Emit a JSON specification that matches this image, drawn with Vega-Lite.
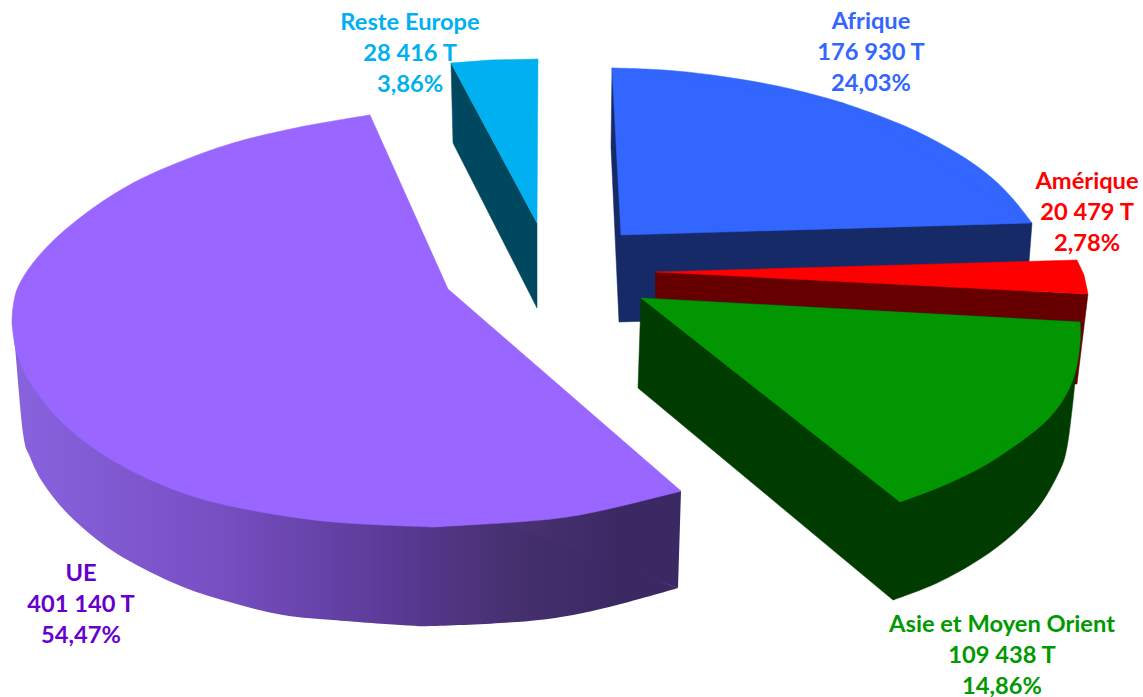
{"$schema":"https://vega.github.io/schema/vega-lite/v6.json","width":1143,"height":697,"autosize":{"type":"none"},"padding":0,"background":"white","view":{"stroke":null},
"datasets":{"labels":[
{"region":"Reste Europe","tonnes":"28 416 T","share":"3,86%","text":"Reste Europe|28 416 T|3,86%","x":410,"y":22.5},
{"region":"Afrique","tonnes":"176 930 T","share":"24,03%","text":"Afrique|176 930 T|24,03%","x":871,"y":21.5},
{"region":"Amérique","tonnes":"20 479 T","share":"2,78%","text":"Amérique|20 479 T|2,78%","x":1087,"y":181.5},
{"region":"Asie et Moyen Orient","tonnes":"109 438 T","share":"14,86%","text":"Asie et Moyen Orient|109 438 T|14,86%","x":1002,"y":624.5},
{"region":"UE","tonnes":"401 140 T","share":"54,47%","text":"UE|401 140 T|54,47%","x":81,"y":574}],
"wall":[
{"i":0,"x":12,"y":323},{"i":1,"x":15,"y":347},{"i":2,"x":23,"y":433},{"i":3,"x":30,"y":457},{"i":4,"x":43,"y":483},{"i":5,"x":67,"y":513},{"i":6,"x":100,"y":542},{"i":7,"x":133,"y":563},{"i":8,"x":183,"y":587},{"i":9,"x":233,"y":603},{"i":10,"x":283,"y":615},{"i":11,"x":333,"y":620},{"i":12,"x":400,"y":625},{"i":13,"x":433,"y":626},{"i":14,"x":517,"y":622},{"i":15,"x":567,"y":616},{"i":16,"x":617,"y":605},{"i":17,"x":678,"y":588}],
"wallCorner":[{"i":0,"x":681,"y":491},{"i":1,"x":678,"y":588},{"i":2,"x":600,"y":559},{"i":3,"x":510,"y":526},{"i":4,"x":480,"y":518}],
"outlines":[
{"pass":2,"part":"UE fan","face":"UE top","i":0,"x":370,"y":115},{"pass":2,"part":"UE fan","face":"UE top","i":1,"x":133,"y":183},{"pass":2,"part":"UE fan","face":"UE top","i":2,"x":12,"y":323},{"pass":2,"part":"UE fan","face":"UE top","i":3,"x":117,"y":463},{"pass":2,"part":"UE fan","face":"UE top","i":4,"x":433,"y":527},{"pass":2,"part":"UE fan","face":"UE top","i":5,"x":600,"y":510},{"pass":2,"part":"UE fan","face":"UE top","i":6,"x":681,"y":491},{"pass":2,"part":"UE fan","face":"UE top","i":7,"x":448,"y":289},{"pass":2,"part":"UE fan","face":"UE top","i":8,"x":370,"y":115},
{"pass":2,"part":"Reste wall","face":"Reste Europe wall","i":0,"x":451,"y":63},{"pass":2,"part":"Reste wall","face":"Reste Europe wall","i":1,"x":453,"y":143},{"pass":2,"part":"Reste wall","face":"Reste Europe wall","i":2,"x":537,"y":308},{"pass":2,"part":"Reste wall","face":"Reste Europe wall","i":3,"x":537,"y":223},{"pass":2,"part":"Reste wall","face":"Reste Europe wall","i":4,"x":451,"y":63},
{"pass":2,"part":"Reste top","face":"Reste Europe top","i":0,"x":451,"y":63},{"pass":2,"part":"Reste top","face":"Reste Europe top","i":1,"x":490,"y":60},{"pass":2,"part":"Reste top","face":"Reste Europe top","i":2,"x":538,"y":59},{"pass":2,"part":"Reste top","face":"Reste Europe top","i":3,"x":537,"y":223},{"pass":2,"part":"Reste top","face":"Reste Europe top","i":4,"x":451,"y":63},
{"pass":2,"part":"Afrique wall","face":"Afrique wall","i":0,"x":612,"y":68},{"pass":2,"part":"Afrique wall","face":"Afrique wall","i":1,"x":611,"y":147},{"pass":2,"part":"Afrique wall","face":"Afrique wall","i":2,"x":619,"y":322},{"pass":2,"part":"Afrique wall","face":"Afrique wall","i":3,"x":1025,"y":310},{"pass":2,"part":"Afrique wall","face":"Afrique wall","i":4,"x":1029,"y":262},{"pass":2,"part":"Afrique wall","face":"Afrique wall","i":5,"x":1032,"y":223},{"pass":2,"part":"Afrique wall","face":"Afrique wall","i":6,"x":612,"y":68},
{"pass":3,"part":"UE arc a","face":"UE top","i":0,"x":370,"y":115},{"pass":3,"part":"UE arc a","face":"UE top","i":1,"x":300,"y":127},{"pass":3,"part":"UE arc a","face":"UE top","i":2,"x":233,"y":143},{"pass":3,"part":"UE arc a","face":"UE top","i":3,"x":177,"y":163},{"pass":3,"part":"UE arc a","face":"UE top","i":4,"x":133,"y":183},{"pass":3,"part":"UE arc a","face":"UE top","i":5,"x":93,"y":208},{"pass":3,"part":"UE arc a","face":"UE top","i":6,"x":57,"y":237},{"pass":3,"part":"UE arc a","face":"UE top","i":7,"x":33,"y":263},{"pass":3,"part":"UE arc a","face":"UE top","i":8,"x":18,"y":287},{"pass":3,"part":"UE arc a","face":"UE top","i":9,"x":13,"y":307},{"pass":3,"part":"UE arc a","face":"UE top","i":10,"x":12,"y":323},
{"pass":3,"part":"UE arc b","face":"UE top","i":0,"x":12,"y":323},{"pass":3,"part":"UE arc b","face":"UE top","i":1,"x":17,"y":353},{"pass":3,"part":"UE arc b","face":"UE top","i":2,"x":33,"y":387},{"pass":3,"part":"UE arc b","face":"UE top","i":3,"x":67,"y":427},{"pass":3,"part":"UE arc b","face":"UE top","i":4,"x":117,"y":463},{"pass":3,"part":"UE arc b","face":"UE top","i":5,"x":183,"y":493},{"pass":3,"part":"UE arc b","face":"UE top","i":6,"x":250,"y":510},{"pass":3,"part":"UE arc b","face":"UE top","i":7,"x":333,"y":522},{"pass":3,"part":"UE arc b","face":"UE top","i":8,"x":433,"y":527},
{"pass":3,"part":"UE arc c","face":"UE top","i":0,"x":433,"y":527},{"pass":3,"part":"UE arc c","face":"UE top","i":1,"x":517,"y":522},{"pass":3,"part":"UE arc c","face":"UE top","i":2,"x":567,"y":517},{"pass":3,"part":"UE arc c","face":"UE top","i":3,"x":617,"y":507},{"pass":3,"part":"UE arc c","face":"UE top","i":4,"x":681,"y":491},
{"pass":3,"part":"Afrique arc","face":"Afrique top","i":0,"x":612,"y":68},{"pass":3,"part":"Afrique arc","face":"Afrique top","i":1,"x":645,"y":69},{"pass":3,"part":"Afrique arc","face":"Afrique top","i":2,"x":687,"y":72},{"pass":3,"part":"Afrique arc","face":"Afrique top","i":3,"x":739,"y":79},{"pass":3,"part":"Afrique arc","face":"Afrique top","i":4,"x":791,"y":89},{"pass":3,"part":"Afrique arc","face":"Afrique top","i":5,"x":843,"y":103},{"pass":3,"part":"Afrique arc","face":"Afrique top","i":6,"x":895,"y":122},{"pass":3,"part":"Afrique arc","face":"Afrique top","i":7,"x":930,"y":138},{"pass":3,"part":"Afrique arc","face":"Afrique top","i":8,"x":965,"y":158},{"pass":3,"part":"Afrique arc","face":"Afrique top","i":9,"x":992,"y":178},{"pass":3,"part":"Afrique arc","face":"Afrique top","i":10,"x":1013,"y":199},{"pass":3,"part":"Afrique arc","face":"Afrique top","i":11,"x":1032,"y":223},
{"pass":4,"part":"Afrique wedge","face":"Afrique top","i":0,"x":612,"y":68},{"pass":4,"part":"Afrique wedge","face":"Afrique top","i":1,"x":843,"y":103},{"pass":4,"part":"Afrique wedge","face":"Afrique top","i":2,"x":1032,"y":223},{"pass":4,"part":"Afrique wedge","face":"Afrique top","i":3,"x":621,"y":235},{"pass":4,"part":"Afrique wedge","face":"Afrique top","i":4,"x":612,"y":68},
{"pass":4,"part":"Amérique wall","face":"Amérique wall","i":0,"x":655.5,"y":272},{"pass":4,"part":"Amérique wall","face":"Amérique wall","i":1,"x":655.5,"y":360},{"pass":4,"part":"Amérique wall","face":"Amérique wall","i":2,"x":1070,"y":384},{"pass":4,"part":"Amérique wall","face":"Amérique wall","i":3,"x":1077,"y":384},{"pass":4,"part":"Amérique wall","face":"Amérique wall","i":4,"x":1088,"y":294},{"pass":4,"part":"Amérique wall","face":"Amérique wall","i":5,"x":655.5,"y":272},
{"pass":4,"part":"Amérique top","face":"Amérique top","i":0,"x":655.5,"y":272},{"pass":4,"part":"Amérique top","face":"Amérique top","i":1,"x":1077,"y":260},{"pass":4,"part":"Amérique top","face":"Amérique top","i":2,"x":1084,"y":275},{"pass":4,"part":"Amérique top","face":"Amérique top","i":3,"x":1088,"y":294},{"pass":4,"part":"Amérique top","face":"Amérique top","i":4,"x":655.5,"y":272},
{"pass":4,"part":"Asie wall","face":"Asie wall","i":0,"x":641,"y":298},{"pass":4,"part":"Asie wall","face":"Asie wall","i":1,"x":638,"y":388},{"pass":4,"part":"Asie wall","face":"Asie wall","i":2,"x":893,"y":600},{"pass":4,"part":"Asie wall","face":"Asie wall","i":3,"x":1013,"y":533},{"pass":4,"part":"Asie wall","face":"Asie wall","i":4,"x":1080,"y":322},{"pass":4,"part":"Asie wall","face":"Asie wall","i":5,"x":641,"y":298},
{"pass":5,"part":"Asie wall arc","face":"Asie wall","i":0,"x":893,"y":600},{"pass":5,"part":"Asie wall arc","face":"Asie wall","i":1,"x":937,"y":583},{"pass":5,"part":"Asie wall arc","face":"Asie wall","i":2,"x":980,"y":559},{"pass":5,"part":"Asie wall arc","face":"Asie wall","i":3,"x":1013,"y":534},{"pass":5,"part":"Asie wall arc","face":"Asie wall","i":4,"x":1040,"y":505},{"pass":5,"part":"Asie wall arc","face":"Asie wall","i":5,"x":1060,"y":470},{"pass":5,"part":"Asie wall arc","face":"Asie wall","i":6,"x":1067,"y":447},{"pass":5,"part":"Asie wall arc","face":"Asie wall","i":7,"x":1072,"y":410},{"pass":5,"part":"Asie wall arc","face":"Asie wall","i":8,"x":1076,"y":373},{"pass":5,"part":"Asie wall arc","face":"Asie wall","i":9,"x":1080,"y":343},{"pass":5,"part":"Asie wall arc","face":"Asie wall","i":10,"x":1080,"y":322},
{"pass":5,"part":"Asie arc","face":"Asie top","i":0,"x":1080,"y":322},{"pass":5,"part":"Asie arc","face":"Asie top","i":1,"x":1080,"y":343},{"pass":5,"part":"Asie arc","face":"Asie top","i":2,"x":1075,"y":373},{"pass":5,"part":"Asie arc","face":"Asie top","i":3,"x":1063,"y":400},{"pass":5,"part":"Asie arc","face":"Asie top","i":4,"x":1043,"y":424},{"pass":5,"part":"Asie arc","face":"Asie top","i":5,"x":1013,"y":447},{"pass":5,"part":"Asie arc","face":"Asie top","i":6,"x":980,"y":468},{"pass":5,"part":"Asie arc","face":"Asie top","i":7,"x":940,"y":487},{"pass":5,"part":"Asie arc","face":"Asie top","i":8,"x":900,"y":502},
{"pass":6,"part":"Asie wedge","face":"Asie top","i":0,"x":641,"y":298},{"pass":6,"part":"Asie wedge","face":"Asie top","i":1,"x":1080,"y":322},{"pass":6,"part":"Asie wedge","face":"Asie top","i":2,"x":1043,"y":424},{"pass":6,"part":"Asie wedge","face":"Asie top","i":3,"x":900,"y":502},{"pass":6,"part":"Asie wedge","face":"Asie top","i":4,"x":641,"y":298}
]},
"encoding":{"x":{"field":"x","type":"quantitative","scale":{"domain":[0,1143],"nice":false,"zero":false},"axis":null},"y":{"field":"y","type":"quantitative","scale":{"domain":[697,0],"nice":false,"zero":false},"axis":null}},
"layer":[
{"data":{"name":"wall"},"mark":{"type":"line","strokeWidth":0,"interpolate":"cardinal","fill":{"gradient":"linear","x1":0,"y1":0,"x2":1,"y2":0,"stops":[{"offset":0,"color":"#8863DE"},{"offset":0.3,"color":"#7850C4"},{"offset":0.57,"color":"#5A3A96"},{"offset":0.75,"color":"#46306F"},{"offset":0.9,"color":"#3B2964"},{"offset":1,"color":"#3B2964"}]}},"encoding":{"order":{"field":"i","type":"quantitative"}}},
{"data":{"name":"wallCorner"},"mark":{"type":"line","strokeWidth":0,"fill":{"gradient":"linear","x1":0,"y1":0,"x2":1,"y2":0,"stops":[{"offset":0,"color":"#4B3379"},{"offset":0.3,"color":"#46306F"},{"offset":0.67,"color":"#3B2964"},{"offset":1,"color":"#3B2964"}]}},"encoding":{"order":{"field":"i","type":"quantitative"}}},
{"data":{"name":"outlines"},
"encoding":{"order":{"field":"i","type":"quantitative"},"detail":{"field":"part"},
"fill":{"field":"face","type":"nominal","legend":null,"scale":{"domain":["UE top","Reste Europe wall","Reste Europe top","Afrique wall","Afrique top","Amérique wall","Amérique top","Asie wall","Asie top"],"range":["#9966FF","#00485F","#00B0F0","#152A66","#3366FF","#660000","#FF0000","#003C00","#039603"]}},
"stroke":{"field":"face","type":"nominal","legend":null,"scale":{"domain":["UE top","Reste Europe wall","Reste Europe top","Afrique wall","Afrique top","Amérique wall","Amérique top","Asie wall","Asie top"],"range":["#9966FF","#00485F","#00B0F0","#152A66","#3366FF","#660000","#FF0000","#003C00","#039603"]}}},
"layer":[
{"transform":[{"filter":{"field":"pass","equal":2}}],"mark":{"type":"line","strokeWidth":0.5}},
{"transform":[{"filter":{"field":"pass","equal":3}}],"mark":{"type":"line","strokeWidth":0.5,"interpolate":"cardinal"}},
{"transform":[{"filter":{"field":"pass","equal":4}}],"mark":{"type":"line","strokeWidth":0.5}},
{"transform":[{"filter":{"field":"pass","equal":5}}],"mark":{"type":"line","strokeWidth":0.5,"interpolate":"cardinal"}},
{"transform":[{"filter":{"field":"pass","equal":6}}],"mark":{"type":"line","strokeWidth":0.5}}
]},
{"data":{"name":"labels"},
"mark":{"type":"text","font":"Lato","fontWeight":"bold","fontSize":23.7,"align":"center","baseline":"middle","lineBreak":"|","lineHeight":31},
"encoding":{"text":{"field":"text"},
"color":{"field":"region","type":"nominal","legend":null,"scale":{"domain":["Reste Europe","Afrique","Amérique","Asie et Moyen Orient","UE"],"range":["#00B0F0","#3366FF","#FF0000","#009900","#6600CC"]}}}}
]}
